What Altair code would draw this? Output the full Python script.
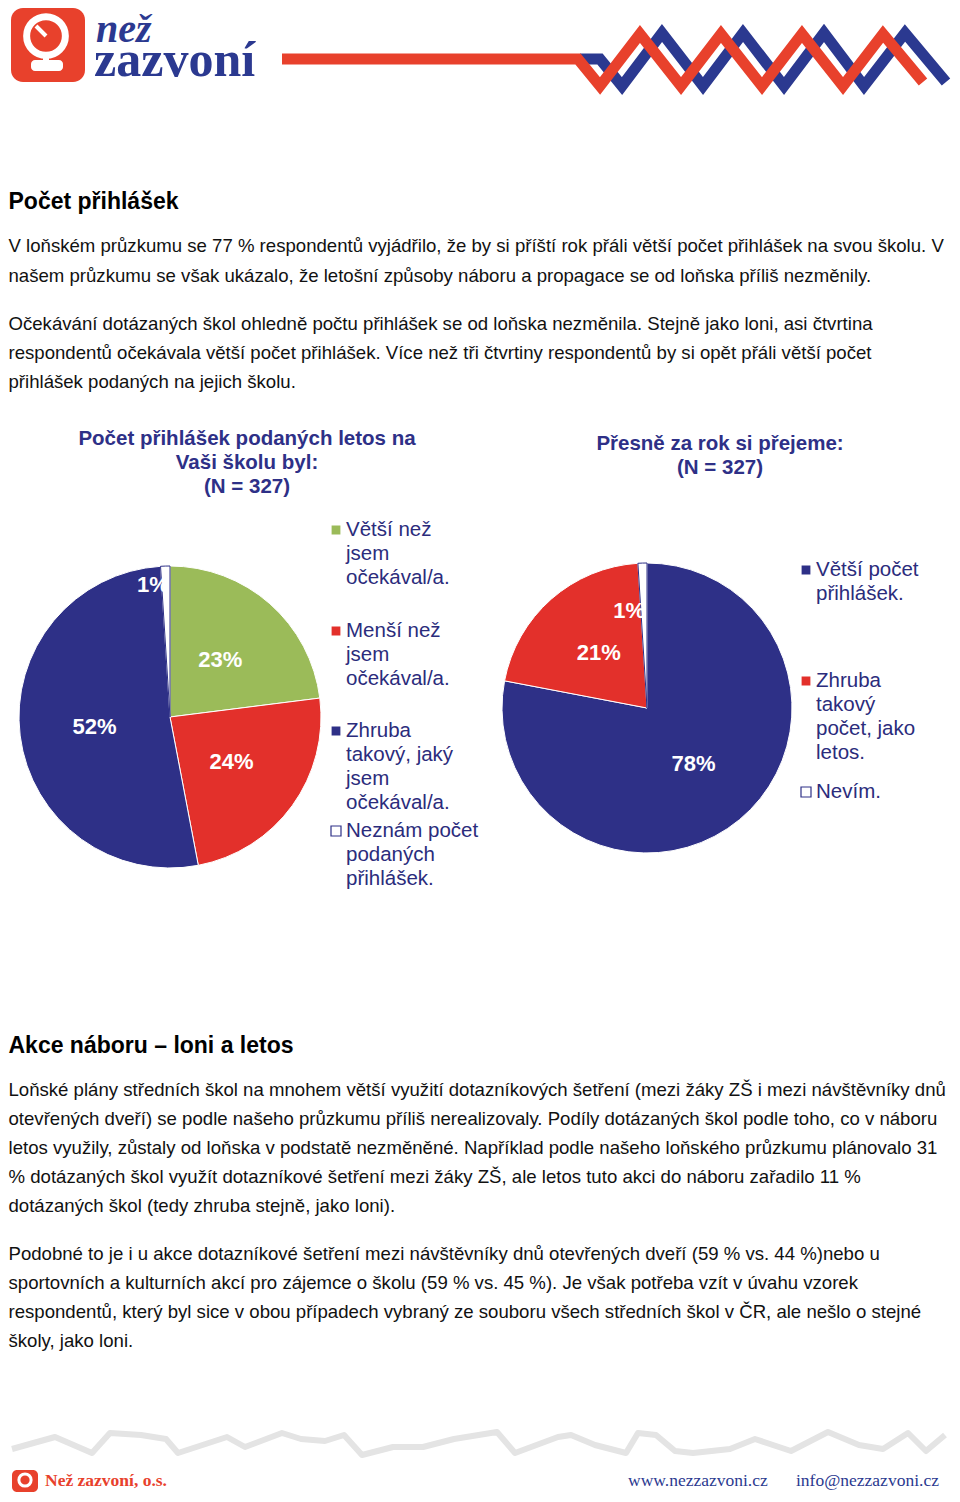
import altair as alt
import pandas as pd

# ---------------- data ----------------
pie1_cats = ["Větší než jsem očekával/a.", "Menší než jsem očekával/a.",
             "Zhruba takový, jaký jsem očekával/a.", "Neznám počet podaných přihlášek."]
pie1_vals = [23, 24, 52, 1]
pie1_labels = ["23%", "24%", "52%", "1%"]
pie1_legend = [["Větší než", "jsem", "očekával/a."],
               ["Menší než", "jsem", "očekával/a."],
               ["Zhruba", "takový, jaký", "jsem", "očekával/a."],
               ["Neznám počet", "podaných", "přihlášek."]]

pie2_cats = ["Větší počet přihlášek.", "Zhruba takový počet, jako letos.", "Nevím."]
pie2_vals = [78, 21, 1]
pie2_labels = ["78%", "21%", "1%"]
pie2_legend = [["Větší počet", "přihlášek."],
               ["Zhruba", "takový", "počet, jako", "letos."],
               ["Nevím."]]

pie1_title = ["Počet přihlášek podaných letos na", "Vaši školu byl:", "(N = 327)"]
pie2_title = ["Přesně za rok si přejeme:", "(N = 327)"]

s1_title = "Počet přihlášek"
s1_p1 = ["V loňském průzkumu se 77 % respondentů vyjádřilo, že by si příští rok přáli větší počet přihlášek na svou školu. V",
         "našem průzkumu se však ukázalo, že letošní způsoby náboru a propagace se od loňska příliš nezměnily."]
s1_p2 = ["Očekávání dotázaných škol ohledně počtu přihlášek se od loňska nezměnila. Stejně jako loni, asi čtvrtina",
         "respondentů očekávala větší počet přihlášek. Více než tři čtvrtiny respondentů by si opět přáli větší počet",
         "přihlášek podaných na jejich školu."]
s2_title = "Akce náboru – loni a letos"
s2_p1 = ["Loňské plány středních škol na mnohem větší využití dotazníkových šetření (mezi žáky ZŠ i mezi návštěvníky dnů",
         "otevřených dveří) se podle našeho průzkumu příliš nerealizovaly. Podíly dotázaných škol podle toho, co v náboru",
         "letos využily, zůstaly od loňska v podstatě nezměněné. Například podle našeho loňského průzkumu plánovalo 31",
         "% dotázaných škol využít dotazníkové šetření mezi žáky ZŠ, ale letos tuto akci do náboru zařadilo 11 %",
         "dotázaných škol (tedy zhruba stejně, jako loni)."]
s2_p2 = ["Podobné to je i u akce dotazníkové šetření mezi návštěvníky dnů otevřených dveří (59 % vs. 44 %)nebo u",
         "sportovních a kulturních akcí pro zájemce o školu (59 % vs. 45 %). Je však potřeba vzít v úvahu vzorek",
         "respondentů, který byl sice v obou případech vybraný ze souboru všech středních škol v ČR, ale nešlo o stejné",
         "školy, jako loni."]

logo_top = "než"
logo_bottom = "zazvoní"
footer_left = "Než zazvoní, o.s."
footer_web = "www.nezzazvoni.cz"
footer_mail = "info@nezzazvoni.cz"

# decoration polylines (page pixels)
deco_red_x = [282, 578, 600, 640, 681, 721, 762, 802, 843, 883, 923]
deco_red_y = [59, 59, 86, 34, 86, 34, 86, 34, 86, 34, 82]
deco_blue_x = [580, 600, 622, 662, 703, 743, 784, 824, 864, 905, 946]
deco_blue_y = [59, 59, 86, 33, 86, 33, 86, 33, 86, 33, 82]
wave_x = [12, 55, 92, 110, 141, 166, 178, 227, 245, 282, 301, 325, 344, 362, 393, 423, 454,
          497, 515, 558, 571, 595, 626, 638, 656, 675, 693, 730, 755, 791, 828, 859, 883, 908, 926, 945]
wave_y = [1449, 1437, 1453, 1433, 1435, 1439, 1453, 1437, 1447, 1433, 1439, 1441, 1435, 1455,
          1447, 1447, 1439, 1432, 1453, 1437, 1435, 1445, 1453, 1433, 1435, 1451, 1453, 1449,
          1439, 1451, 1432, 1445, 1449, 1433, 1451, 1435]

# ---------------- styles ----------------
OFF = 8
def px(v):
    return v - OFF

LEFT = 8.5
NAVY = "#2e3087"
TXT_NAVY = "#2b2c7c"
RED = "#e3302b"
GREEN = "#9bbb59"
LOGO_RED = "#e8412c"
LOGO_BLUE = "#2b3990"
SANS = "Liberation Sans"
SERIF = "Liberation Serif"
BODY = 18.6

all_cats = pie1_cats + pie2_cats
color_scale = alt.Scale(domain=all_cats,
                        range=[GREEN, RED, NAVY, "#ffffff", NAVY, RED, "#ffffff"])
stroke_scale = alt.Scale(domain=all_cats,
                         range=["#ffffff", "#ffffff", "#ffffff", NAVY, "#ffffff", "#ffffff", NAVY])
theta_scale = alt.Scale(domain=[0, 100])

layers = []


def text_lines(lines, x, y0, lh, size, weight="normal", color="#111111", font=SANS,
               align="left", style=None):
    df = pd.DataFrame({"t": lines, "y": [px(y0 + i * lh) for i in range(len(lines))]})
    kw = dict(align=align, baseline="middle", fontSize=size, fontWeight=weight,
              color=color, font=font)
    if style:
        kw["fontStyle"] = style
    return alt.Chart(df).mark_text(**kw).encode(
        x=alt.value(px(x)), y=alt.Y("y:Q", scale=None, axis=None), text="t:N")


def polyline(xs, ys, color, width, join="miter"):
    df = pd.DataFrame({"x": [px(v) for v in xs], "y": [px(v) for v in ys], "i": list(range(len(xs)))})
    return alt.Chart(df).mark_line(color=color, strokeWidth=width, strokeJoin=join,
                                   strokeCap="butt").encode(
        x=alt.X("x:Q", scale=None, axis=None), y=alt.Y("y:Q", scale=None, axis=None),
        order="i:Q")


one = pd.DataFrame({"a": [0]})

# ---- header logo ----
layers.append(alt.Chart(one).mark_rect(color=LOGO_RED, cornerRadius=12).encode(
    x=alt.value(px(11)), x2=alt.value(px(85)), y=alt.value(0), y2=alt.value(px(82))))
layers.append(alt.Chart(one).mark_point(
    shape="circle", filled=False, stroke="white", strokeWidth=7, size=1500, opacity=1).encode(
    x=alt.value(px(46)), y=alt.value(px(36))))
layers.append(alt.Chart(one).mark_rect(color="white", cornerRadius=4).encode(
    x=alt.value(px(31)), x2=alt.value(px(63)), y=alt.value(px(60)), y2=alt.value(px(71))))
layers.append(alt.Chart(one).mark_rect(color="white").encode(
    x=alt.value(px(43)), x2=alt.value(px(49)), y=alt.value(px(54)), y2=alt.value(px(62))))
layers.append(alt.Chart(one).mark_rule(color="white", strokeWidth=4).encode(
    x=alt.value(px(46)), x2=alt.value(px(36)), y=alt.value(px(36)), y2=alt.value(px(26))))
layers.append(text_lines([logo_top], 96, 30, 0, 40, weight="bold", color=LOGO_BLUE,
                         font=SERIF, style="italic"))
layers.append(text_lines([logo_bottom], 94, 61, 0, 50, weight="bold", color=LOGO_BLUE,
                         font=SERIF))
layers.append(polyline(deco_blue_x, deco_blue_y, LOGO_BLUE, 11))
layers.append(polyline(deco_red_x, deco_red_y, LOGO_RED, 11))

# ---- section 1 text ----
layers.append(text_lines([s1_title], LEFT, 202, 0, 23, weight="bold", color="#000000"))
layers.append(text_lines(s1_p1, LEFT, 246, 30, BODY))
layers.append(text_lines(s1_p2, LEFT, 324, 29, BODY))

# ---- chart titles ----
layers.append(text_lines(pie1_title, 247, 439, 24, 20.5, weight="bold", color=NAVY, align="center"))
layers.append(text_lines(pie2_title, 720, 444, 24, 20.5, weight="bold", color=NAVY, align="center"))


# ---- pies ----
def pie(cats, vals, labels, cx, cy, r, lab_r, small_r, small_dx):
    df = pd.DataFrame({"cat": cats, "v": vals, "o": list(range(len(cats))), "lab": labels})
    arcs = alt.Chart(df).mark_arc(radius=r, strokeWidth=1).encode(
        theta=alt.Theta("v:Q", stack=True, scale=theta_scale),
        order=alt.Order("o:Q"),
        color=alt.Color("cat:N", scale=color_scale, legend=None),
        stroke=alt.Stroke("cat:N", scale=stroke_scale, legend=None),
        x=alt.value(px(cx)), y=alt.value(px(cy)))
    lab_base = alt.Chart(df).transform_window(
        cum="sum(v)", sort=[alt.SortField("o")]
    ).transform_calculate(mid="datum.cum - datum.v / 2")
    big = lab_base.transform_filter("datum.v >= 5").mark_text(
        radius=lab_r, fontSize=22, fontWeight="bold", color="white", font=SANS).encode(
        theta=alt.Theta("mid:Q", stack=None, scale=theta_scale), text="lab:N",
        x=alt.value(px(cx)), y=alt.value(px(cy)))
    small = lab_base.transform_filter("datum.v < 5").mark_text(
        radius=small_r, fontSize=22, fontWeight="bold", color="white", font=SANS,
        align="right", dx=small_dx).encode(
        theta=alt.Theta("mid:Q", stack=None, scale=theta_scale), text="lab:N",
        x=alt.value(px(cx)), y=alt.value(px(cy)))
    return [arcs, big, small]


layers += pie(pie1_cats, pie1_vals, pie1_labels, 170, 717, 151, 76, 132, 3)
layers += pie(pie2_cats, pie2_vals, pie2_labels, 647, 708, 145, 73, 97, 1)


# ---- legends ----
def legend(cats, lines, first_y, sq_x, txt_x, lh=24):
    out = []
    sq = pd.DataFrame({"cat": cats, "y": [px(v) for v in first_y]})
    out.append(alt.Chart(sq).mark_square(size=100, opacity=1, strokeWidth=1.2).encode(
        x=alt.value(px(sq_x)), y=alt.Y("y:Q", scale=None, axis=None),
        fill=alt.Fill("cat:N", scale=color_scale, legend=None),
        stroke=alt.Stroke("cat:N", scale=stroke_scale, legend=None)))
    for ls, y0 in zip(lines, first_y):
        out.append(text_lines(ls, txt_x, y0, lh, 20.5, color=TXT_NAVY))
    return out


layers += legend(pie1_cats, pie1_legend, [530, 631, 731, 831], 336, 346)
layers += legend(pie2_cats, pie2_legend, [570, 681, 792], 806, 816)

# ---- section 2 text ----
layers.append(text_lines([s2_title], LEFT, 1046, 0, 23, weight="bold", color="#000000"))
layers.append(text_lines(s2_p1, LEFT, 1090, 29, BODY))
layers.append(text_lines(s2_p2, LEFT, 1254, 29, BODY))

# ---- footer ----
layers.append(polyline(wave_x, wave_y, "#e4e4e4", 6, join="round"))
layers.append(alt.Chart(one).mark_rect(color=LOGO_RED, cornerRadius=5).encode(
    x=alt.value(px(12)), x2=alt.value(px(38)), y=alt.value(px(1470)), y2=alt.value(px(1492))))
layers.append(alt.Chart(one).mark_point(
    shape="circle", filled=False, stroke="white", strokeWidth=3, size=150, opacity=1).encode(
    x=alt.value(px(25)), y=alt.value(px(1480))))
layers.append(text_lines([footer_left], 45, 1481, 0, 17.5, weight="bold", color=LOGO_RED, font=SERIF))
layers.append(text_lines([footer_web], 628, 1481, 0, 17.5, color=LOGO_BLUE, font=SERIF))
layers.append(text_lines([footer_mail], 796, 1481, 0, 17.5, color=LOGO_BLUE, font=SERIF))

chart = alt.layer(*layers).properties(
    width=944, height=1484, padding=0, autosize="none", background="white"
).configure_view(stroke=None)

chart.save("out.html", embed_options={"renderer": "svg", "actions": False})
